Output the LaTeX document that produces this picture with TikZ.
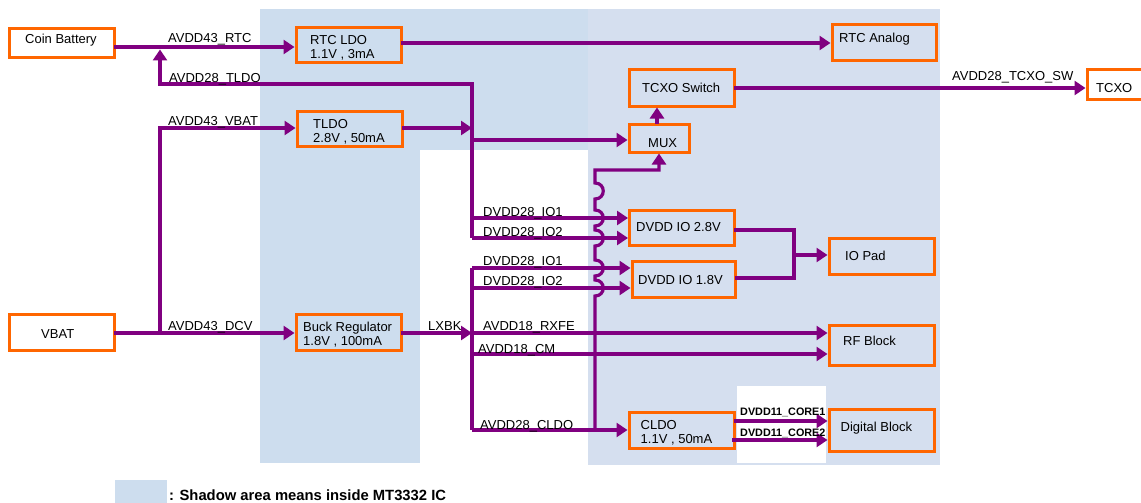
\documentclass[tikz,border=0pt]{standalone}
\usepackage{fontspec}
\setmainfont{Liberation Sans}
\usetikzlibrary{arrows.meta}
\definecolor{shadeA}{RGB}{205,221,238}
\definecolor{shadeB}{RGB}{213,223,239}
\definecolor{boxorange}{RGB}{255,102,0}
\definecolor{wirepurple}{RGB}{128,0,128}
\tikzset{
  box/.style={draw=boxorange, line width=3pt, inner sep=0pt},
  wire/.style={draw=wirepurple, line width=3.2pt},
  arr/.style={wire, -{Triangle[length=11pt,width=14pt]}},
  lbl/.style={font=\fontsize{13}{14}\selectfont, inner sep=0pt, anchor=base west},
  txt/.style={font=\fontsize{13}{14}\selectfont, inner sep=0pt, anchor=base west},
  txtt/.style={font=\fontsize{13}{14}\selectfont, inner sep=0pt, anchor=west, align=left},
  slbl/.style={font=\bfseries\fontsize{10.8}{12}\selectfont, inner sep=0pt, anchor=base west},
}
\begin{document}
\begin{tikzpicture}[x=1pt,y=-1pt]
\useasboundingbox (0,0) rectangle (1141,503);
% shaded areas
\fill[shadeA] (260,9) rectangle (420,463);
\fill[shadeA] (420,9) rectangle (588,150);
\fill[shadeB] (588,9) rectangle (940,465);
\fill[white] (737,386) rectangle (826,463);
\fill[shadeA] (115,480) rectangle (167,503);
\node[font=\bfseries\fontsize{14.8}{16}\selectfont, inner sep=0pt, anchor=base west] (legend) at (169,500.5) {: Shadow area means inside MT3332 IC};

% boxes
\node[box, minimum width=105pt, minimum height=29pt] (coin) at (61.5,43) {};
\node[box, minimum width=105pt, minimum height=35pt] (rtcldo) at (348.5,45.5) {};
\node[box, minimum width=105pt, minimum height=35pt] (tldo) at (349.5,128.5) {};
\node[box, minimum width=104pt, minimum height=36pt] (rtca) at (884,43) {};
\node[box, minimum width=105pt, minimum height=36pt] (tcxosw) at (681.5,88) {};
\node[box, minimum width=60pt, minimum height=29pt] (tcxo) at (1117,84.5) {};
\node[box, minimum width=60pt, minimum height=28pt] (mux) at (659,138) {};
\node[box, minimum width=105pt, minimum height=35pt] (io28) at (682,228) {};
\node[box, minimum width=103pt, minimum height=36pt] (io18) at (683.5,279) {};
\node[box, minimum width=105pt, minimum height=36pt] (iopad) at (881.5,256) {};
\node[box, minimum width=105pt, minimum height=36pt] (vbat) at (61.5,332) {};
\node[box, minimum width=105pt, minimum height=36pt] (buck) at (348.5,332) {};
\node[box, minimum width=105pt, minimum height=40pt] (rf) at (881.5,345) {};
\node[box, minimum width=105pt, minimum height=36pt] (cldo) at (681.5,430) {};
\node[box, minimum width=105pt, minimum height=42pt] (digital) at (881.5,430) {};

% junction coordinates
\coordinate (cA) at (114,47);
\coordinate (b1top) at (472,84);
\coordinate (b1bot) at (472,238);
\coordinate (fb) at (160,84);
\coordinate (fbtip) at (160,49.5);
\coordinate (r1) at (401,43);
\coordinate (t1) at (402,128);
\coordinate (m0) at (472,140);
\coordinate (u1) at (472,218);
\coordinate (b2top) at (472,268);
\coordinate (l2) at (472,288);
\coordinate (b2bot) at (472,430);
\coordinate (bk) at (401,333);
\coordinate (rx) at (472,333);
\coordinate (cm) at (472,354);
\coordinate (h0) at (595,430);
\coordinate (ht) at (595,170);
\coordinate (mt) at (657,124);
\coordinate (ts) at (734,88);
\coordinate (i1) at (734,230);
\coordinate (i2) at (735,278);
\coordinate (im) at (794,255);
\coordinate (v1) at (114,333);
\coordinate (v2) at (160,333);
\coordinate (d1) at (734,421);
\coordinate (d2) at (732,440);

% wires
\draw[arr] (cA) -- (cA -| rtcldo.west);
\draw[arr] (b1bot) -- (b1top) -- (fb) -- (fbtip);
\draw[arr] (r1) -- (r1 -| rtca.west);
\draw[arr] (t1) -- (t1 -| b1top);
\draw[arr] (m0) -- (m0 -| mux.west);
\draw[arr] (u1) -- (u1 -| io28.west);
\draw[arr] (b1bot) -- (b1bot -| io28.west);
\draw[wire] (b2top) -- (b2bot);
\draw[arr] (b2top) -- (b2top -| io18.west);
\draw[arr] (l2) -- (l2 -| io18.west);
\draw[arr] (bk) -- (bk -| b2top);
\draw[arr] (rx) -- (rx -| rf.west);
\draw[arr] (cm) -- (cm -| rf.west);
\draw[arr] (b2bot) -- (b2bot -| cldo.west);
\draw[arr] (h0) -- (595,296) .. controls (606,296) and (606,280) .. (595,280)
  -- (595,276) .. controls (606,276) and (606,260) .. (595,260)
  -- (595,246) .. controls (606,246) and (606,230) .. (595,230)
  -- (595,226) .. controls (606,226) and (606,210) .. (595,210)
  -- (595,199) .. controls (606,199) and (606,183) .. (595,183)
  -- (ht) -| (mux.south);
\draw[arr] (mt) -- (mt |- tcxosw.south);
\draw[arr] (ts) -- (ts -| tcxo.west);
\draw[wire] (i1) -| (im |- i2) -- (i2);
\draw[arr] (im) -- (im -| iopad.west);
\draw[arr] (v1) -- (v1 -| buck.west);
\draw[arr] (v2) |- (t1 -| tldo.west);
\draw[arr] (d1) -- (d1 -| digital.west);
\draw[arr] (d2) -- (d2 -| digital.west);

% box texts
\node[txt] (coinT) at (25,44) {Coin Battery};
\node[txtt] (rtcldoT) at (310,47.5) {RTC LDO\\1.1V , 3mA};
\node[txtt] (tldoT) at (313,132) {TLDO\\2.8V , 50mA};
\node[txt] (rtcaT) at (839,42.6) {RTC Analog};
\node[txt] (tcxoswT) at (642,92.5) {TCXO Switch};
\node[txt] (tcxoT) at (1096,92.5) {TCXO};
\node[txt] (muxT) at (648,147) {MUX};
\node[txt] (io28T) at (636,231.5) {DVDD IO 2.8V};
\node[txt] (io18T) at (638,284) {DVDD IO 1.8V};
\node[txt] (iopadT) at (845,260) {IO Pad};
\node[txt] (rfT) at (843,345.5) {RF Block};
\node[txt] (digitalT) at (840.5,431) {Digital Block};
\node[txt] (vbatT) at (41,338) {VBAT};
\node[txtt] (buckT) at (303,334.5) {Buck Regulator\\1.8V , 100mA};
\node[txtt] (cldoT) at (640.5,433) {CLDO\\1.1V , 50mA};

% wire labels
\node[lbl] (l1) at (168,43) {AVDD43\_RTC};
\node[lbl] (l2t) at (169,82.5) {AVDD28\_TLDO};
\node[lbl] (l3) at (168,125.5) {AVDD43\_VBAT};
\node[lbl] (l4) at (168,330) {AVDD43\_DCV};
\node[lbl] (l5) at (428,330) {LXBK};
\node[lbl] (l6) at (483,216) {DVDD28\_IO1};
\node[lbl] (l7) at (483,236.5) {DVDD28\_IO2};
\node[lbl] (l8) at (483,265.5) {DVDD28\_IO1};
\node[lbl] (l9) at (483,285) {DVDD28\_IO2};
\node[lbl] (l10) at (483,330) {AVDD18\_RXFE};
\node[lbl] (l11) at (478,353) {AVDD18\_CM};
\node[lbl] (l12) at (480,429) {AVDD28\_CLDO};
\node[lbl] (l13) at (952,81) {AVDD28\_TCXO\_SW};
\node[slbl] (l14) at (740,415) {DVDD11\_CORE1};
\node[slbl] (l15) at (740,436.5) {DVDD11\_CORE2};
\end{tikzpicture}
\end{document}
